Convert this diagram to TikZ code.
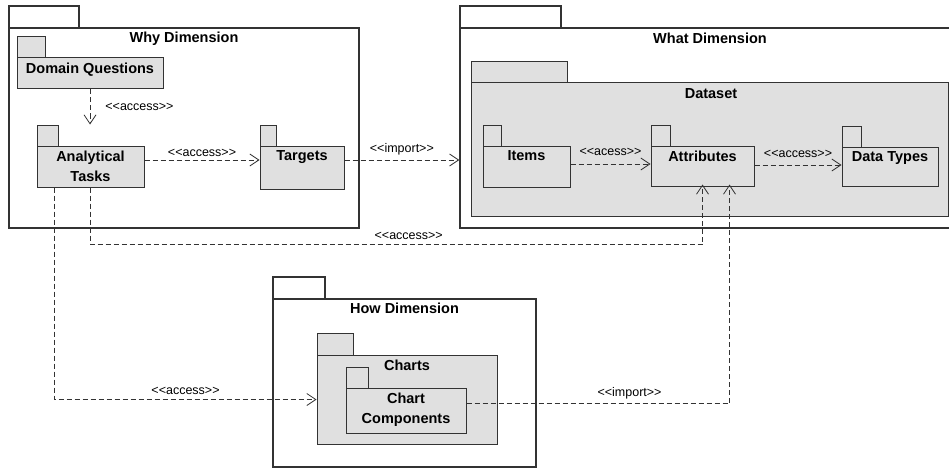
\documentclass[tikz,border=0pt]{standalone}
\usepackage{fontspec}
\setmainfont{Liberation Sans}[Ligatures = TeXOff]
\usetikzlibrary{positioning}
\usetikzlibrary{fit}
\usetikzlibrary{arrows.meta}

\begin{document}
\begin{tikzpicture}
[x = 1pt, y = -1pt,
pkg/.style = {rectangle, draw = black!80, fill = black!12, line width = 1pt, inner sep = 0pt},
outer/.style = {pkg, fill = white, line width = 1.5pt},
pkgtitle/.style = {anchor = north, inner sep = 5pt, align = center, font = \fontsize{14.5}{20}\selectfont\bfseries},
dep/.style = {draw = black!80, line width = 0.8pt, dash pattern = on 5pt off 3pt, -{Straight Barb[length = 9pt, width = 12pt]}},
deplabel/.style = {inner sep = 1pt, font = \fontsize{12.5}{14}\selectfont}]

\useasboundingbox (0, 0) rectangle (949, 468);
\clip (0, 0) rectangle (949, 468);

% why dimension
\node[outer, fit = {(9, 6) (79, 28)}] (why-tab) {};
\node[outer, fit = {(9, 28) (359, 228)}, label = {[pkgtitle]north:Why Dimension}] (why) {};
\node[pkg, fit = {(17, 37) (45, 58)}] (dq-tab) {};
\node[pkg, fit = {(17, 58) (163, 89)}, label = {[pkgtitle]north:Domain Questions}] (dq) {};
\node[pkg, fit = {(37, 125) (58, 146)}] (at-tab) {};
\node[pkg, fit = {(37, 146) (144, 187)}, label = {[pkgtitle]north:Analytical\\Tasks}] (at) {};
\node[pkg, fit = {(260, 125) (276, 146)}] (tg-tab) {};
\node[pkg, fit = {(260, 146) (344, 189)}, label = {[pkgtitle]north:Targets}] (tg) {};

% what dimension
\node[outer, fit = {(460, 6) (561, 28)}] (what-tab) {};
\node[outer, fit = {(460, 28) (962, 228)}] (what) {};
\node[pkgtitle] (what-title) at (710, 28) {What Dimension};
\node[pkg, fit = {(471, 62) (567, 83)}] (ds-tab) {};
\node[pkg, fit = {(471, 83) (948, 216)}] (ds) {};
\node[pkgtitle] (ds-title) at (711, 83) {Dataset};
\node[pkg, fit = {(483, 125) (501, 146)}] (items-tab) {};
\node[pkg, fit = {(483, 146) (570, 187)}, label = {[pkgtitle]north:Items}] (items) {};
\node[pkg, fit = {(651, 125) (670, 146)}] (attr-tab) {};
\node[pkg, fit = {(651, 146) (754, 186)}, label = {[pkgtitle]north:Attributes}] (attr) {};
\node[pkg, fit = {(842, 126) (861, 147)}] (dt-tab) {};
\node[pkg, fit = {(842, 147) (938, 186)}, label = {[pkgtitle]north:Data Types}] (dt) {};

% how dimension
\node[outer, fit = {(273, 277) (325, 299)}] (how-tab) {};
\node[outer, fit = {(273, 299) (536, 467)}, label = {[pkgtitle]north:How Dimension}] (how) {};
\node[pkg, fit = {(317, 333) (353, 355)}] (charts-tab) {};
\node[pkg, fit = {(317, 355) (497, 444)}, label = {[pkgtitle]north:Charts}] (charts) {};
\node[pkg, fit = {(346, 367) (368, 388)}] (cc-tab) {};
\node[pkg, fit = {(346, 388) (466, 433)}, label = {[pkgtitle]north:Chart\\Components}] (cc) {};

% dependencies
\draw[dep] (dq.south) -- node[deplabel, right = 14pt] {<<access>>} (at-tab.north -| dq.south);
\draw[dep] (at.east |- 0, 160) -- node[deplabel, above = 2pt] {<<access>>} (tg.west |- 0, 160);
\draw[dep] (tg.east |- 0, 160) -- node[deplabel, above = 4pt] {<<import>>} (what.west |- 0, 160);
\draw[dep] (items.east |- 0, 164) -- node[deplabel, above = 7pt] {<<acess>>} (attr.west |- 0, 164);
\draw[dep] (attr.east |- 0, 165) -- node[deplabel, above = 6pt] {<<access>>} (dt.west |- 0, 165);
\draw[dep, shorten > = -2pt] (at.south) -- ++(0, 57) -| node[deplabel, above = 3pt, pos = 0.26] {<<access>>} (attr.south);
\coordinate (at-out) at ([xshift = 18pt]at.south west);
\draw[dep] (at-out) |- node[deplabel, above = 3pt, pos = 0.75] {<<access>>} (charts.west);
\draw[dep, shorten > = -2pt] ([yshift = 7pt]cc.east) -| node[deplabel, above = 3pt, pos = 0.31] {<<import>>} ([xshift = 27pt]attr.south);
\end{tikzpicture}
\end{document}
